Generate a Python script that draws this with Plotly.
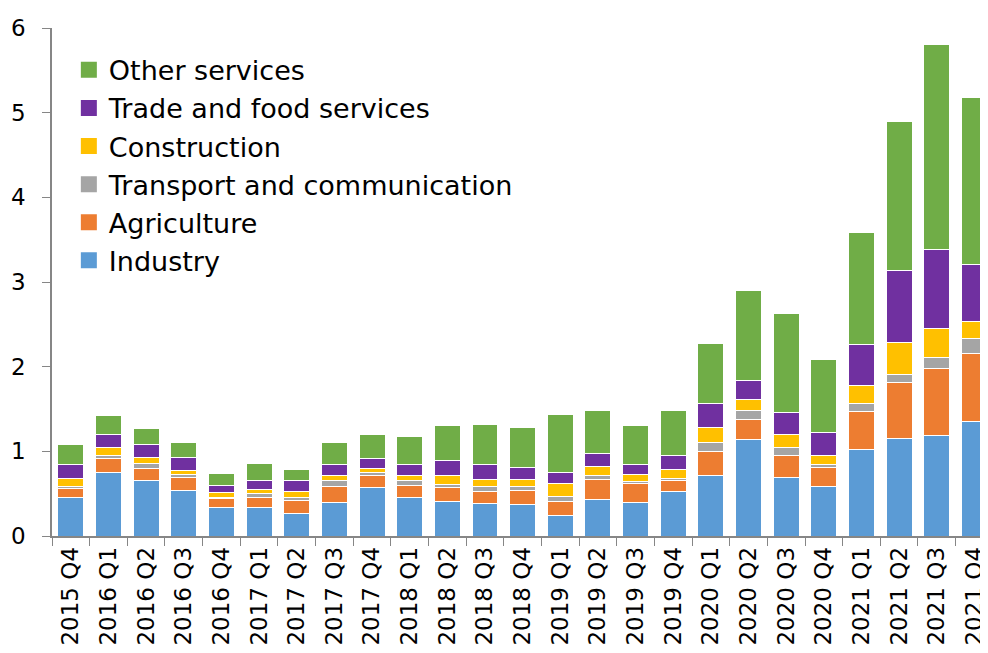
import plotly.graph_objects as go

quarters = ["2015 Q4", "2016 Q1", "2016 Q2", "2016 Q3", "2016 Q4", "2017 Q1", "2017 Q2",
            "2017 Q3", "2017 Q4", "2018 Q1", "2018 Q2", "2018 Q3", "2018 Q4", "2019 Q1",
            "2019 Q2", "2019 Q3", "2019 Q4", "2020 Q1", "2020 Q2", "2020 Q3", "2020 Q4",
            "2021 Q1", "2021 Q2", "2021 Q3", "2021 Q4"]

industry = [0.45, 0.75, 0.65, 0.54, 0.34, 0.34, 0.27, 0.40, 0.57, 0.45, 0.41, 0.38, 0.37,
            0.24, 0.43, 0.40, 0.52, 0.71, 1.14, 0.69, 0.59, 1.02, 1.15, 1.19, 1.35]
agriculture = [0.11, 0.16, 0.15, 0.15, 0.10, 0.11, 0.15, 0.19, 0.15, 0.15, 0.16, 0.14, 0.17,
               0.17, 0.24, 0.22, 0.13, 0.29, 0.24, 0.26, 0.22, 0.45, 0.66, 0.79, 0.80]
transport = [0.03, 0.04, 0.06, 0.04, 0.02, 0.05, 0.04, 0.07, 0.03, 0.06, 0.04, 0.06, 0.04,
             0.06, 0.04, 0.02, 0.03, 0.10, 0.10, 0.10, 0.04, 0.09, 0.10, 0.13, 0.18]
construction = [0.09, 0.09, 0.07, 0.04, 0.05, 0.05, 0.06, 0.06, 0.05, 0.06, 0.11, 0.09, 0.09,
                0.15, 0.11, 0.09, 0.10, 0.18, 0.13, 0.15, 0.10, 0.22, 0.37, 0.34, 0.20]
trade = [0.16, 0.16, 0.15, 0.16, 0.09, 0.11, 0.14, 0.13, 0.12, 0.12, 0.17, 0.18, 0.14,
         0.13, 0.15, 0.11, 0.17, 0.29, 0.23, 0.26, 0.27, 0.48, 0.85, 0.93, 0.68]
other = [0.24, 0.22, 0.19, 0.17, 0.14, 0.20, 0.13, 0.26, 0.28, 0.34, 0.42, 0.47, 0.47,
         0.69, 0.51, 0.47, 0.53, 0.70, 1.06, 1.17, 0.87, 1.32, 1.76, 2.43, 1.97]

series_names = ["Industry", "Agriculture", "Transport and communication",
                "Construction", "Trade and food services", "Other services"]
series_values = [industry, agriculture, transport, construction, trade, other]
series_colors = ["#5B9BD5", "#ED7D31", "#A5A5A5", "#FFC000", "#7030A0", "#70AD47"]

FONT = "'DejaVu Sans', sans-serif"

fig = go.Figure()
for name, vals, color in zip(series_names, series_values, series_colors):
    fig.add_trace(go.Bar(
        x=quarters, y=vals, name=name, showlegend=False,
        marker=dict(color=color, line=dict(color="white", width=1)),
    ))

# legend entries (square swatches), top-down order as in the reference
for name, color in reversed(list(zip(series_names, series_colors))):
    fig.add_trace(go.Scatter(
        x=[None], y=[None], name=name, mode="markers",
        marker=dict(symbol="square", size=16, color=color, line=dict(width=0)),
        showlegend=True,
    ))

fig.update_layout(
    barmode="stack",
    bargap=0.31,
    width=980, height=645,
    margin=dict(l=44, r=0, t=20, b=117),
    paper_bgcolor="white", plot_bgcolor="white",
    font=dict(family=FONT, color="#000000"),
    showlegend=True,
    legend=dict(
        traceorder="normal",
        itemsizing="trace",
        x=0.018, y=0.965, xanchor="left", yanchor="top",
        font=dict(size=27, family=FONT, color="#000000"),
        bgcolor="rgba(0,0,0,0)",
        itemwidth=30,
        tracegroupgap=0,
    ),
    xaxis=dict(
        type="category",
        range=[-0.5, 24.36],
        tickangle=-90,
        tickson="boundaries",
        ticks="outside", ticklen=8, tickcolor="#868686",
        showline=True, linecolor="#868686", linewidth=1.5,
        showgrid=False,
        tickfont=dict(size=23, family=FONT, color="#000000"),
        automargin=False,
    ),
    yaxis=dict(
        range=[0, 6],
        tickvals=[0, 1, 2, 3, 4, 5, 6],
        ticks="outside", ticklen=8, tickcolor="#868686",
        showline=True, linecolor="#868686", linewidth=1.5,
        showgrid=False, zeroline=False,
        ticklabelstandoff=12,
        tickfont=dict(size=23, family=FONT, color="#000000"),
        automargin=False,
    ),
)

fig.write_html("out.html")
